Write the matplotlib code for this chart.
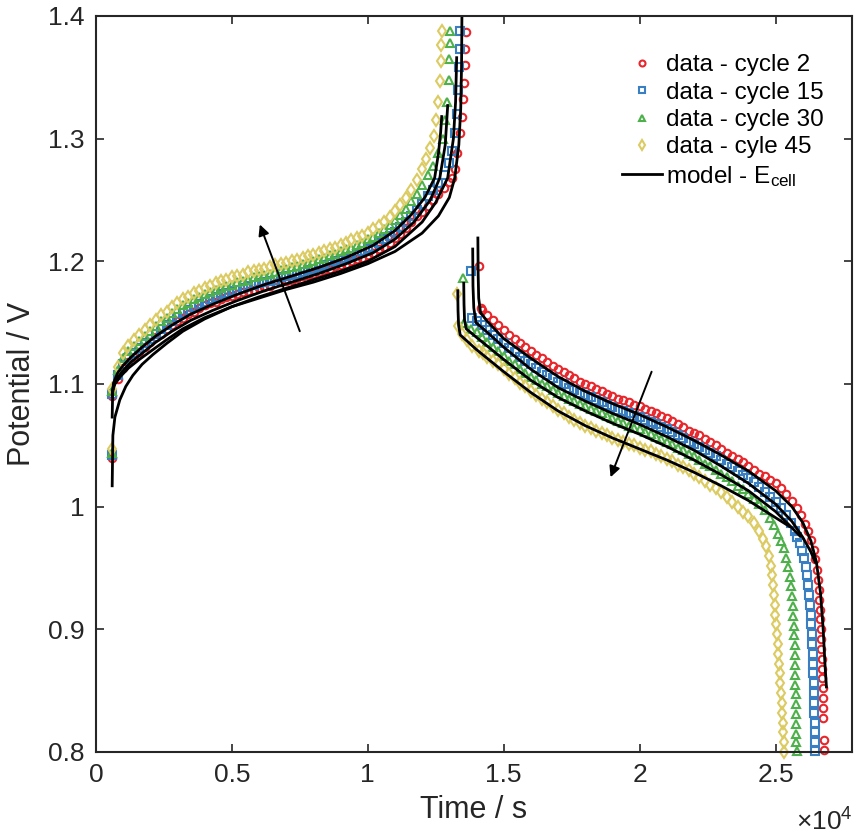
import numpy as np
import matplotlib.pyplot as plt

plt.rcParams['font.family'] = ['Liberation Sans', 'DejaVu Sans']
plt.rcParams['mathtext.fontset'] = 'custom'
plt.rcParams['mathtext.rm'] = 'Liberation Sans'
plt.rcParams['mathtext.it'] = 'Liberation Sans:italic'

# ---------------- data (time in s, potential in V) ----------------
labels = ['data - cycle 2', 'data - cycle 15', 'data - cycle 30', 'data - cyle 45']
model_label = 'model - E$_{\\mathrm{cell}}$'
colors = ['#E8262B', '#3A7FC1', '#4DB04A', '#DCCB62']
markers = ['o', 's', '^', 'd']

x_ticks = [0, 5000, 10000, 15000, 20000, 25000]
x_tick_labels = ['0', '0.5', '1', '1.5', '2', '2.5']
y_ticks = [0.8, 0.9, 1.0, 1.1, 1.2, 1.3, 1.4]
y_tick_labels = ['0.8', '0.9', '1', '1.1', '1.2', '1.3', '1.4']

# rest point before charging, one per cycle
t_rest = 600
v_rest = [1.040, 1.042, 1.044, 1.047]

# charge, shared sampling times
t_chg = [600, 800, 1000, 1200, 1400, 1600, 1800, 2000, 2200, 2400, 2600, 2800,
         3000, 3200, 3400, 3600, 3800, 4000, 4200, 4400, 4600, 4800, 5000, 5200,
         5400, 5600, 5800, 6000, 6200, 6400, 6600, 6800, 7000, 7200, 7400, 7600,
         7800, 8000, 8200, 8400, 8600, 8800, 9000, 9200, 9400, 9600, 9800, 10000,
         10200, 10400, 10600, 10800, 11000, 11200, 11400, 11600, 11800]
v_chg_c2 = [1.090, 1.104, 1.113, 1.118, 1.122, 1.126, 1.130, 1.134, 1.138, 1.141, 1.145, 1.148,
            1.151, 1.154, 1.157, 1.159, 1.162, 1.164, 1.166, 1.167, 1.169, 1.171, 1.172, 1.173,
            1.175, 1.176, 1.177, 1.178, 1.179, 1.180, 1.182, 1.183, 1.184, 1.185, 1.186, 1.188,
            1.189, 1.190, 1.191, 1.193, 1.194, 1.196, 1.197, 1.198, 1.200, 1.202, 1.203, 1.205,
            1.207, 1.210, 1.212, 1.215, 1.219, 1.222, 1.227, 1.232, 1.237]
v_chg_c15 = [1.092, 1.107, 1.116, 1.121, 1.125, 1.129, 1.133, 1.137, 1.141, 1.145, 1.148, 1.151,
             1.155, 1.158, 1.160, 1.163, 1.165, 1.167, 1.169, 1.171, 1.173, 1.174, 1.176, 1.177,
             1.178, 1.180, 1.181, 1.182, 1.183, 1.184, 1.185, 1.187, 1.188, 1.189, 1.190, 1.191,
             1.193, 1.194, 1.195, 1.197, 1.198, 1.200, 1.201, 1.203, 1.204, 1.206, 1.208, 1.210,
             1.212, 1.215, 1.218, 1.221, 1.224, 1.228, 1.232, 1.237, 1.242]
v_chg_c30 = [1.094, 1.111, 1.121, 1.127, 1.131, 1.135, 1.139, 1.143, 1.147, 1.151, 1.154, 1.158,
             1.161, 1.164, 1.166, 1.169, 1.171, 1.173, 1.175, 1.177, 1.178, 1.180, 1.181, 1.183,
             1.184, 1.185, 1.187, 1.188, 1.189, 1.190, 1.191, 1.193, 1.194, 1.195, 1.196, 1.198,
             1.199, 1.200, 1.202, 1.203, 1.205, 1.206, 1.208, 1.210, 1.211, 1.213, 1.215, 1.218,
             1.220, 1.223, 1.226, 1.230, 1.234, 1.238, 1.243, 1.249, 1.255]
v_chg_c45 = [1.096, 1.114, 1.125, 1.131, 1.136, 1.140, 1.144, 1.148, 1.152, 1.156, 1.159, 1.163,
             1.166, 1.169, 1.171, 1.174, 1.176, 1.178, 1.180, 1.182, 1.184, 1.185, 1.187, 1.188,
             1.189, 1.191, 1.192, 1.193, 1.194, 1.195, 1.197, 1.198, 1.199, 1.200, 1.201, 1.203,
             1.204, 1.205, 1.207, 1.208, 1.210, 1.211, 1.213, 1.215, 1.217, 1.219, 1.221, 1.223,
             1.226, 1.229, 1.232, 1.236, 1.241, 1.246, 1.252, 1.258, 1.266]

# end of charge (steep rise)
t_chg_end_c2 = [12000, 12200, 12400, 12600, 12800, 13000, 13100, 13200, 13300, 13400, 13450,
                13500, 13530, 13560, 13580, 13600]
v_chg_end_c2 = [1.240, 1.245, 1.250, 1.255, 1.260, 1.265, 1.268, 1.275, 1.288, 1.305, 1.318,
                1.332, 1.345, 1.360, 1.373, 1.387]
t_chg_end_c15 = [12000, 12200, 12400, 12600, 12800, 13000, 13100, 13200, 13270, 13320, 13360,
                 13390, 13410]
v_chg_end_c15 = [1.247, 1.253, 1.258, 1.264, 1.270, 1.280, 1.290, 1.305, 1.320, 1.340, 1.358,
                 1.373, 1.388]
t_chg_end_c30 = [12000, 12200, 12400, 12600, 12750, 12850, 12920, 12970, 13000, 13020, 13040]
v_chg_end_c30 = [1.262, 1.270, 1.278, 1.288, 1.300, 1.315, 1.330, 1.348, 1.365, 1.378, 1.388]
t_chg_end_c45 = [12000, 12150, 12300, 12420, 12520, 12590, 12640, 12680, 12700, 12720]
v_chg_end_c45 = [1.275, 1.283, 1.292, 1.302, 1.315, 1.330, 1.347, 1.363, 1.376, 1.388]

# start of discharge
t_dis_start_c2 = [14100, 14150, 14200]
v_dis_start_c2 = [1.196, 1.162, 1.160]
t_dis_start_c15 = [13800, 13850, 14000, 14200]
v_dis_start_c15 = [1.192, 1.154, 1.151, 1.148]
t_dis_start_c30 = [13500, 13550, 13800, 14000, 14200]
v_dis_start_c30 = [1.186, 1.150, 1.145, 1.142, 1.138]
t_dis_start_c45 = [13270, 13310, 13450, 13650, 13850, 14100, 14250]
v_dis_start_c45 = [1.173, 1.147, 1.141, 1.136, 1.131, 1.127, 1.125]

# discharge, shared sampling times
t_dis = [14400, 14600, 14800, 15000, 15200, 15400, 15600, 15800, 16000, 16200, 16400, 16600,
         16800, 17000, 17200, 17400, 17600, 17800, 18000, 18200, 18400, 18600, 18800, 19000,
         19200, 19400, 19600, 19800, 20000, 20200, 20400, 20600, 20800, 21000, 21200, 21400,
         21600, 21800, 22000, 22200, 22400, 22600, 22800, 23000, 23200, 23400, 23600, 23800,
         24000]
v_dis_c2 = [1.156, 1.152, 1.148, 1.144, 1.140, 1.137, 1.133, 1.130, 1.127, 1.124, 1.121, 1.118,
            1.115, 1.112, 1.110, 1.107, 1.105, 1.102, 1.100, 1.098, 1.096, 1.094, 1.092, 1.090,
            1.088, 1.087, 1.085, 1.083, 1.082, 1.080, 1.078, 1.076, 1.074, 1.072, 1.070, 1.067,
            1.065, 1.062, 1.060, 1.058, 1.055, 1.053, 1.050, 1.047, 1.044, 1.041, 1.039, 1.036,
            1.033]
v_dis_c15 = [1.144, 1.140, 1.137, 1.133, 1.129, 1.126, 1.122, 1.119, 1.116, 1.113, 1.110, 1.107,
             1.105, 1.102, 1.100, 1.097, 1.095, 1.093, 1.091, 1.089, 1.087, 1.085, 1.083, 1.081,
             1.079, 1.078, 1.076, 1.074, 1.073, 1.071, 1.069, 1.067, 1.065, 1.063, 1.061, 1.058,
             1.056, 1.053, 1.051, 1.049, 1.046, 1.044, 1.041, 1.038, 1.035, 1.032, 1.029, 1.026,
             1.023]
v_dis_c30 = [1.134, 1.130, 1.127, 1.123, 1.119, 1.116, 1.112, 1.109, 1.106, 1.103, 1.100, 1.098,
             1.095, 1.093, 1.090, 1.088, 1.086, 1.084, 1.082, 1.080, 1.078, 1.076, 1.074, 1.072,
             1.070, 1.068, 1.066, 1.064, 1.063, 1.061, 1.059, 1.057, 1.055, 1.053, 1.051, 1.048,
             1.046, 1.043, 1.041, 1.038, 1.035, 1.033, 1.030, 1.027, 1.024, 1.021, 1.017, 1.014,
             1.010]
v_dis_c45 = [1.122, 1.119, 1.116, 1.112, 1.108, 1.105, 1.101, 1.098, 1.094, 1.091, 1.088, 1.085,
             1.082, 1.079, 1.076, 1.073, 1.071, 1.068, 1.066, 1.064, 1.062, 1.060, 1.058, 1.056,
             1.054, 1.053, 1.051, 1.050, 1.048, 1.046, 1.045, 1.043, 1.041, 1.039, 1.037, 1.034,
             1.032, 1.030, 1.027, 1.024, 1.021, 1.018, 1.015, 1.012, 1.008, 1.004, 1.000, 0.996,
             0.992]

# end of discharge (knee and drop to cut-off)
t_dis_end_c2 = [24200, 24400, 24600, 24800, 25000, 25200, 25400, 25600, 25800, 25950, 26100,
                26200, 26300, 26400, 26460, 26510, 26550, 26580, 26605, 26625, 26645, 26660,
                26675, 26688, 26700, 26712, 26723, 26733, 26743, 26752, 26760, 26770, 26770]
v_dis_end_c2 = [1.030, 1.027, 1.025, 1.022, 1.019, 1.015, 1.010, 1.005, 0.999, 0.993, 0.986,
                0.980, 0.973, 0.965, 0.957, 0.948, 0.940, 0.932, 0.924, 0.916, 0.908, 0.900,
                0.892, 0.884, 0.876, 0.868, 0.860, 0.852, 0.844, 0.836, 0.828, 0.810, 0.802]
t_dis_end_c15 = [24200, 24400, 24600, 24800, 25000, 25200, 25400, 25550, 25700, 25800, 25900,
                 25980, 26050, 26110, 26160, 26200, 26240, 26270, 26295, 26315, 26333, 26348,
                 26362, 26375, 26387, 26398, 26408, 26417, 26425, 26432, 26438, 26443, 26447]
v_dis_end_c15 = [1.020, 1.016, 1.012, 1.008, 1.004, 0.999, 0.993, 0.987, 0.980, 0.975, 0.970,
                 0.964, 0.958, 0.951, 0.944, 0.936, 0.928, 0.920, 0.912, 0.904, 0.896, 0.888,
                 0.880, 0.872, 0.864, 0.856, 0.848, 0.840, 0.832, 0.824, 0.816, 0.808, 0.801]
t_dis_end_c30 = [24200, 24400, 24600, 24800, 24950, 25100, 25200, 25300, 25400, 25470, 25530,
                 25580, 25610, 25635, 25655, 25672, 25686, 25698, 25708, 25717, 25725, 25732,
                 25739, 25745, 25751, 25757, 25762, 25767, 25770]
v_dis_end_c30 = [1.006, 1.002, 0.997, 0.991, 0.985, 0.978, 0.972, 0.966, 0.958, 0.951, 0.943,
                 0.935, 0.927, 0.919, 0.911, 0.903, 0.895, 0.887, 0.879, 0.871, 0.863, 0.855,
                 0.847, 0.839, 0.831, 0.823, 0.815, 0.808, 0.801]
t_dis_end_c45 = [24200, 24400, 24550, 24650, 24750, 24830, 24870, 24900, 24930, 24960, 24990,
                 25020, 25050, 25080, 25105, 25130, 25155, 25180, 25200, 25220, 25240, 25260,
                 25280, 25300, 25320]
v_dis_end_c45 = [0.987, 0.980, 0.974, 0.968, 0.960, 0.952, 0.944, 0.936, 0.928, 0.920, 0.912,
                 0.904, 0.896, 0.888, 0.880, 0.872, 0.864, 0.856, 0.848, 0.840, 0.832, 0.824,
                 0.816, 0.808, 0.800]

# model curves, charge
tm_chg_c2 = [600, 625, 700, 880, 1100, 1360, 1700, 2100, 2600, 3200, 4000, 5000, 6000, 7000,
             8000, 9000, 10000, 11000, 12000, 12600, 13000, 13200, 13350, 13420, 13450, 13470]
vm_chg_c2 = [1.017, 1.058, 1.073, 1.087, 1.098, 1.107, 1.116, 1.124, 1.133, 1.143, 1.153, 1.163,
             1.170, 1.177, 1.183, 1.190, 1.198, 1.208, 1.223, 1.237, 1.252, 1.268, 1.295, 1.325,
             1.360, 1.420]
tm_chg_c15 = [600, 620, 700, 900, 1200, 1600, 2100, 2600, 3200, 4000, 5000, 6000, 7000, 8000,
              9000, 10000, 11000, 12000, 12500, 12940, 13150, 13230, 13270]
vm_chg_c15 = [1.073, 1.095, 1.100, 1.106, 1.113, 1.120, 1.128, 1.136, 1.145, 1.154, 1.163, 1.171,
              1.178, 1.185, 1.192, 1.200, 1.212, 1.232, 1.248, 1.268, 1.300, 1.330, 1.366]
tm_chg_c30 = [600, 650, 800, 1000, 1300, 1700, 2200, 2800, 3500, 4300, 5200, 6200, 7200, 8200,
              9200, 10200, 11000, 11700, 12300, 12650, 12850, 12940]
vm_chg_c30 = [1.090, 1.098, 1.105, 1.111, 1.118, 1.125, 1.134, 1.143, 1.152, 1.160, 1.168, 1.176,
              1.183, 1.190, 1.198, 1.207, 1.218, 1.232, 1.250, 1.268, 1.295, 1.327]
tm_chg_c45 = [600, 650, 800, 1000, 1300, 1700, 2200, 2800, 3500, 4300, 5200, 6200, 7200, 8200,
              9200, 10200, 11000, 11600, 12100, 12460, 12600, 12680, 12720]
vm_chg_c45 = [1.092, 1.101, 1.109, 1.115, 1.122, 1.130, 1.139, 1.148, 1.157, 1.165, 1.173, 1.181,
              1.188, 1.195, 1.203, 1.213, 1.225, 1.238, 1.252, 1.268, 1.288, 1.305, 1.318]

# model curves, discharge
tm_dis_c2 = [14050, 14060, 14080, 14150, 14400, 15000, 16000, 17000, 18000, 19000, 20000, 21000,
             22000, 23000, 24000, 25000, 25600, 26000, 26300, 26500, 26650, 26750, 26820, 26870]
vm_dis_c2 = [1.219, 1.190, 1.170, 1.158, 1.151, 1.137, 1.121, 1.106, 1.094, 1.084, 1.075, 1.065,
             1.054, 1.042, 1.029, 1.013, 1.000, 0.987, 0.972, 0.955, 0.930, 0.900, 0.870, 0.853]
tm_dis_c15 = [13860, 13870, 13900, 13980, 14400, 15000, 16000, 17000, 18000, 19000, 20000, 21000,
              22000, 23000, 24000, 25000, 25600, 26000, 26300, 26450]
vm_dis_c15 = [1.210, 1.180, 1.162, 1.150, 1.142, 1.130, 1.112, 1.097, 1.086, 1.076, 1.067, 1.057,
              1.046, 1.033, 1.019, 1.002, 0.988, 0.975, 0.963, 0.955]
tm_dis_c30 = [13530, 13540, 13560, 13620, 14000, 15000, 16000, 17000, 18000, 19000, 20000, 21000,
              22000, 23000, 24000, 25000, 25500, 25900]
vm_dis_c30 = [1.182, 1.165, 1.152, 1.145, 1.138, 1.120, 1.103, 1.089, 1.078, 1.068, 1.059, 1.049,
              1.038, 1.026, 1.013, 0.996, 0.985, 0.976]
tm_dis_c45 = [13310, 13320, 13340, 13400, 14000, 15000, 16000, 17000, 18000, 19000, 20000, 21000,
              22000, 23000, 24000, 24500, 25000, 25500]
vm_dis_c45 = [1.176, 1.160, 1.148, 1.140, 1.128, 1.110, 1.093, 1.078, 1.066, 1.056, 1.047, 1.038,
              1.028, 1.017, 1.005, 0.998, 0.991, 0.984]

# trend arrows (tail -> head)
arrow_chg = ((7500, 1.143), (6030, 1.230))
arrow_dis = ((20440, 1.110), (18930, 1.024))

# ---------------- figure ----------------
fig = plt.figure(figsize=(8.56, 8.36), dpi=100)
ax = fig.add_axes([0.112, 0.1005, 0.883, 0.8804])

chg_v = [v_chg_c2, v_chg_c15, v_chg_c30, v_chg_c45]
chg_end_t = [t_chg_end_c2, t_chg_end_c15, t_chg_end_c30, t_chg_end_c45]
chg_end_v = [v_chg_end_c2, v_chg_end_c15, v_chg_end_c30, v_chg_end_c45]
dis_start_t = [t_dis_start_c2, t_dis_start_c15, t_dis_start_c30, t_dis_start_c45]
dis_start_v = [v_dis_start_c2, v_dis_start_c15, v_dis_start_c30, v_dis_start_c45]
dis_v = [v_dis_c2, v_dis_c15, v_dis_c30, v_dis_c45]
dis_end_t = [t_dis_end_c2, t_dis_end_c15, t_dis_end_c30, t_dis_end_c45]
dis_end_v = [v_dis_end_c2, v_dis_end_c15, v_dis_end_c30, v_dis_end_c45]

handles = []
for i in range(4):
    t = np.concatenate([[t_rest], t_chg, chg_end_t[i], dis_start_t[i], t_dis, dis_end_t[i]])
    v = np.concatenate([[v_rest[i]], chg_v[i], chg_end_v[i], dis_start_v[i], dis_v[i], dis_end_v[i]])
    ms = 5.4 if markers[i] != 'd' else 6.4
    h, = ax.plot(t, v, ls='none', marker=markers[i], ms=ms, mfc='none',
                 mec=colors[i], mew=1.5, label=labels[i], clip_on=False)
    handles.append(h)

model_t = [tm_chg_c2, tm_chg_c15, tm_chg_c30, tm_chg_c45,
           tm_dis_c2, tm_dis_c15, tm_dis_c30, tm_dis_c45]
model_v = [vm_chg_c2, vm_chg_c15, vm_chg_c30, vm_chg_c45,
           vm_dis_c2, vm_dis_c15, vm_dis_c30, vm_dis_c45]
for tm, vm in zip(model_t, model_v):
    hm, = ax.plot(tm, vm, color='k', lw=2.0, label=model_label)
handles.append(hm)

for tail, head in (arrow_chg, arrow_dis):
    ax.annotate('', xy=head, xytext=tail,
                arrowprops=dict(arrowstyle='-|>', color='k', lw=1.4,
                                mutation_scale=16, shrinkA=0, shrinkB=0))

ax.set_xlim(0, 27800)
ax.set_ylim(0.8, 1.4)
ax.set_xticks(x_ticks)
ax.set_xticklabels(x_tick_labels)
ax.set_yticks(y_ticks)
ax.set_yticklabels(y_tick_labels)

dark = '#262626'
for s in ax.spines.values():
    s.set_linewidth(1.5)
    s.set_color(dark)
ax.tick_params(direction='in', length=6, width=1.2, top=True, right=True,
               labelsize=19, colors=dark, pad=8)
ax.set_xlabel('Time / s', fontsize=22, color=dark, labelpad=6)
ax.set_ylabel('Potential / V', fontsize=22, color=dark, labelpad=8)
fig.text(0.996, 0.006, '$\\times10^{4}$', ha='right', va='baseline', fontsize=19, color=dark)

leg = ax.legend(handles=handles, loc='upper left', bbox_to_anchor=(0.7266, 0.935),
                bbox_transform=fig.transFigure, frameon=False, fontsize=17.5,
                handlelength=1.65, handletextpad=0.15, labelspacing=0.22,
                borderpad=0, borderaxespad=0, markerscale=0.8)

fig.savefig('out.png', dpi=100)
